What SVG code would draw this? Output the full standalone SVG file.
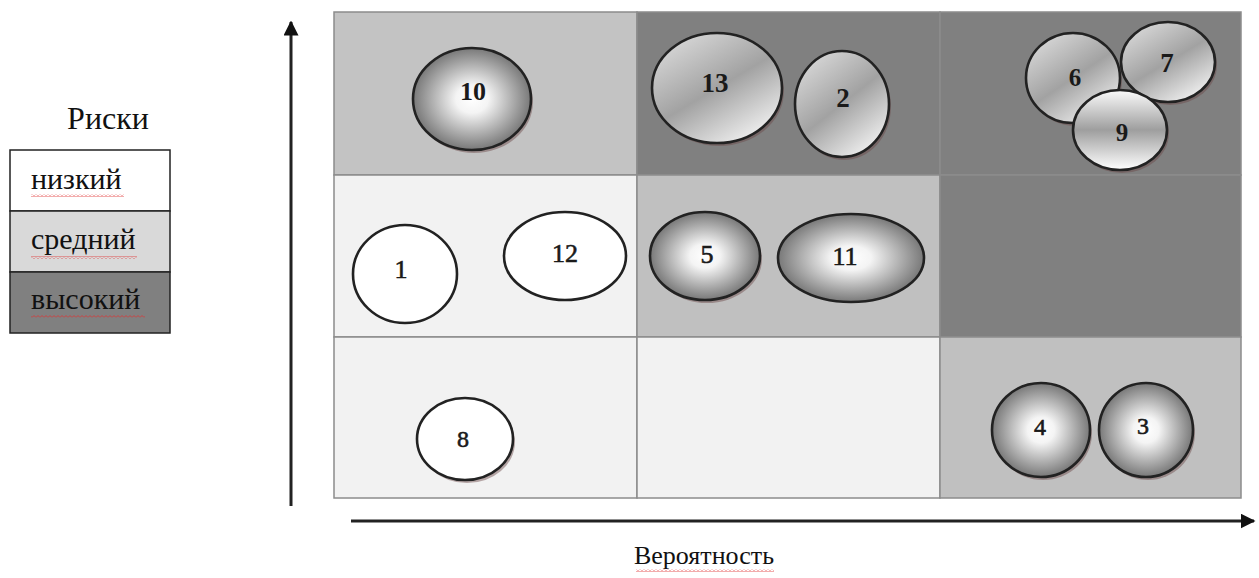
<svg xmlns="http://www.w3.org/2000/svg" width="1259" height="578" viewBox="0 0 1259 578">
<style>
.lbl{font-family:"Liberation Serif","Times New Roman",serif;fill:#111;}
.num{font-family:"Liberation Serif","Times New Roman",serif;text-anchor:middle;fill:#1a1a1a;}
.b{font-weight:bold;}
.r{font-weight:normal;stroke:#1a1a1a;stroke-width:0.6;}
.node{stroke:#222;stroke-width:2.6;}
.sh{fill:#6b4848;opacity:0.45;}
.cell{stroke:#8c8c8c;stroke-width:1.5;}
.axis{stroke:#222;stroke-width:3;fill:none;}
</style>
<defs>
<radialGradient id="gRad" cx="0.5" cy="0.5" r="0.55">
<stop offset="0" stop-color="#ffffff"/>
<stop offset="0.25" stop-color="#f4f4f4"/>
<stop offset="1" stop-color="#676767"/>
</radialGradient>
<linearGradient id="gMet" x1="0.15" y1="0" x2="0.85" y2="1">
<stop offset="0" stop-color="#dcdcdc"/>
<stop offset="0.5" stop-color="#a2a2a2"/>
<stop offset="1" stop-color="#fafafa"/>
</linearGradient>
<linearGradient id="gVert" x1="0" y1="0" x2="0" y2="1">
<stop offset="0" stop-color="#fbfbfb"/>
<stop offset="0.5" stop-color="#9e9e9e"/>
<stop offset="1" stop-color="#ffffff"/>
</linearGradient>
<pattern id="wavy" width="4" height="3" patternUnits="userSpaceOnUse">
<path d="M0,2.5 L2,0.5 L4,2.5" stroke="#e03030" stroke-width="0.8" fill="none"/>
</pattern>
<marker id="arr" viewBox="0 0 10 10" refX="9" refY="5" markerWidth="5" markerHeight="5" orient="auto" markerUnits="strokeWidth">
<path d="M0,0 L10,5 L0,10 z" fill="#111"/>
</marker>
</defs>

<g id="legend">
<text class="lbl" x="108" y="129" font-size="32" text-anchor="middle">Риски</text>
<rect x="10" y="150" width="160" height="61" fill="#ffffff" stroke="#222" stroke-width="1.5"/>
<rect x="10" y="211" width="160" height="61" fill="#d9d9d9" stroke="#222" stroke-width="1.5"/>
<rect x="10" y="272" width="160" height="61" fill="#808080" stroke="#222" stroke-width="1.5"/>
<text class="lbl" x="31" y="189" font-size="30">низкий</text>
<text class="lbl" x="31" y="249" font-size="30">средний</text>
<text class="lbl" x="31" y="309" font-size="30">высокий</text>
<rect x="31" y="194" width="93" height="3" fill="url(#wavy)"/>
<rect x="31" y="256" width="106" height="3" fill="url(#wavy)"/>
<rect x="31" y="315" width="114" height="3" fill="url(#wavy)"/>
</g>

<g id="matrix">
<rect class="cell" x="334" y="12" width="303" height="163" fill="#c3c3c3"/>
<rect class="cell" x="637" y="12" width="303" height="163" fill="#808080"/>
<rect class="cell" x="940" y="12" width="301" height="163" fill="#808080"/>
<rect class="cell" x="334" y="175" width="303" height="162" fill="#f2f2f2"/>
<rect class="cell" x="637" y="175" width="303" height="162" fill="#c0c0c0"/>
<rect class="cell" x="940" y="175" width="301" height="162" fill="#808080"/>
<rect class="cell" x="334" y="337" width="303" height="161" fill="#f2f2f2"/>
<rect class="cell" x="637" y="337" width="303" height="161" fill="#f2f2f2"/>
<rect class="cell" x="940" y="337" width="301" height="161" fill="#c0c0c0"/>
</g>

<g id="connectors">
<line class="axis" x1="291" y1="506" x2="291" y2="22" marker-end="url(#arr)"/>
<line class="axis" x1="351" y1="521" x2="1254" y2="521" marker-end="url(#arr)"/>
</g>

<g id="axis-label">
<text class="lbl" x="704" y="564" font-size="26" text-anchor="middle">Вероятность</text>
<rect x="636" y="569" width="138" height="3" fill="url(#wavy)"/>
</g>

<g id="node-10">
<ellipse class="sh" cx="474" cy="102" rx="59" ry="51"/>
<ellipse class="node" cx="472" cy="99" rx="59" ry="51" fill="url(#gRad)"/>
<text class="num b" x="473" y="100" font-size="26">10</text>
</g>
<g id="node-13">
<ellipse class="sh" cx="719" cy="91" rx="65" ry="55"/>
<ellipse class="node" cx="717" cy="88" rx="65" ry="55" fill="url(#gMet)"/>
<text class="num b" x="715" y="92" font-size="27">13</text>
</g>
<g id="node-2">
<ellipse class="sh" cx="844" cy="107" rx="47" ry="53"/>
<ellipse class="node" cx="842" cy="104" rx="47" ry="53" fill="url(#gMet)"/>
<text class="num b" x="843" y="107" font-size="27">2</text>
</g>
<g id="node-6">
<ellipse class="sh" cx="1075" cy="81" rx="47" ry="45"/>
<ellipse class="node" cx="1073" cy="78" rx="47" ry="45" fill="url(#gMet)"/>
<text class="num b" x="1075" y="86" font-size="25">6</text>
</g>
<g id="node-7">
<ellipse class="sh" cx="1170" cy="65" rx="47" ry="40"/>
<ellipse class="node" cx="1168" cy="62" rx="47" ry="40" fill="url(#gMet)"/>
<text class="num b" x="1167" y="72" font-size="27">7</text>
</g>
<g id="node-9">
<ellipse class="sh" cx="1122" cy="133" rx="47" ry="40"/>
<ellipse class="node" cx="1120" cy="130" rx="47" ry="40" fill="url(#gVert)"/>
<text class="num b" x="1122" y="141" font-size="25">9</text>
</g>
<g id="node-1">
<ellipse class="node" cx="405" cy="274" rx="52" ry="49" fill="#ffffff"/>
<text class="num r" x="401" y="278" font-size="26">1</text>
</g>
<g id="node-12">
<ellipse class="node" cx="565" cy="256" rx="61" ry="44" fill="#ffffff"/>
<text class="num r" x="565" y="262" font-size="26">12</text>
</g>
<g id="node-5">
<ellipse class="sh" cx="707" cy="259" rx="55" ry="44"/>
<ellipse class="node" cx="705" cy="256" rx="55" ry="44" fill="url(#gRad)"/>
<text class="num r" x="707" y="263" font-size="26">5</text>
</g>
<g id="node-11">
<ellipse class="node" cx="851" cy="258" rx="73" ry="44" fill="url(#gRad)"/>
<text class="num r" x="845" y="265" font-size="26">11</text>
</g>
<g id="node-8">
<ellipse class="sh" cx="467" cy="442" rx="48" ry="41"/>
<ellipse class="node" cx="465" cy="439" rx="48" ry="41" fill="#ffffff"/>
<text class="num r" x="463" y="447" font-size="24">8</text>
</g>
<g id="node-4">
<ellipse class="sh" cx="1043" cy="433" rx="49" ry="47"/>
<ellipse class="node" cx="1041" cy="430" rx="49" ry="47" fill="url(#gRad)"/>
<text class="num r" x="1040" y="435" font-size="24">4</text>
</g>
<g id="node-3">
<ellipse class="sh" cx="1148" cy="433" rx="47" ry="47"/>
<ellipse class="node" cx="1146" cy="430" rx="47" ry="47" fill="url(#gRad)"/>
<text class="num r" x="1143" y="434" font-size="24">3</text>
</g>
</svg>
